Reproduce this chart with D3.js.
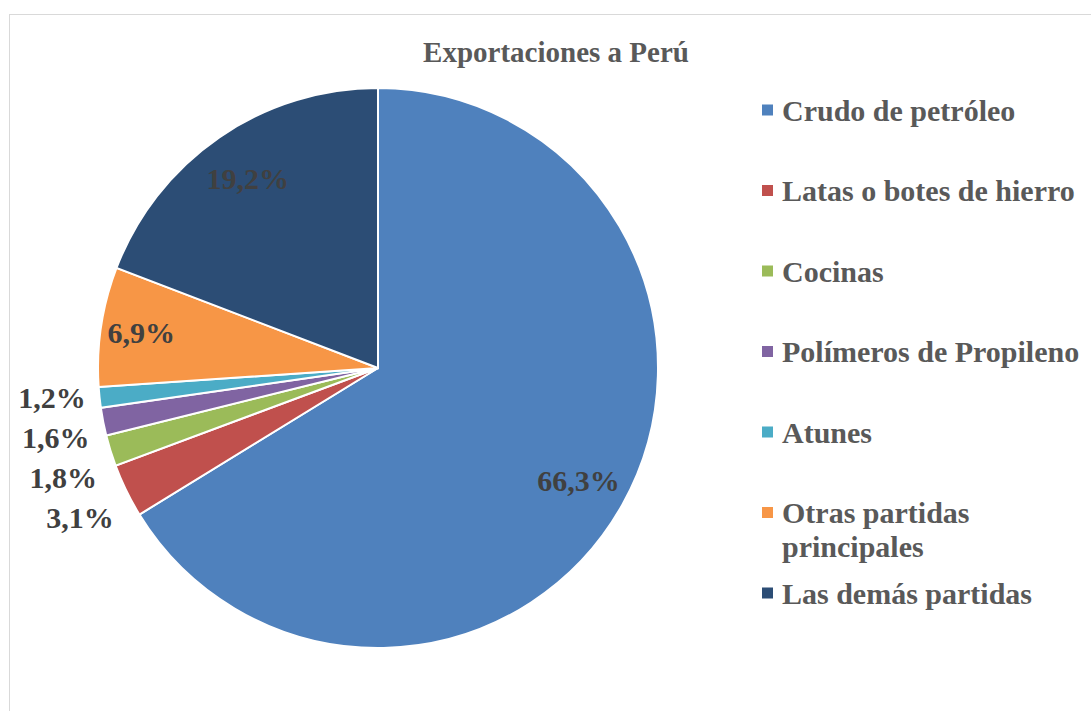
<!DOCTYPE html>
<meta charset="utf-8">
<style>
    body { margin: 0; background: #fff; }
    text { font-family: "Liberation Serif", "Times New Roman", serif; font-weight: bold; }
</style>
<body>
<script src="https://cdn.jsdelivr.net/npm/d3@7"></script>
<script>

    var width = 1091,
        height = 711;

    // Data (percent of exports)
    var categories = ["Crudo de petróleo", "Latas o botes de hierro", "Cocinas",
        "Polímeros de Propileno", "Atunes", "Otras partidas principales", "Las demás partidas"];
    var values = [66.3, 3.1, 1.8, 1.6, 1.2, 6.9, 19.2];
    var labels = ["66,3%", "3,1%", "1,8%", "1,6%", "1,2%", "6,9%", "19,2%"];
    var colors = ["#4F81BD", "#C0504D", "#9BBB59", "#8064A2", "#4BACC6", "#F79646", "#2C4D75"];

    var cx = 378, cy = 368, r = 280;
    var fontSize = 30;

    var svg = d3.select("body").append("svg")
        .attr("width", width)
        .attr("height", height);

    // chart border
    svg.append("rect")
        .attr("x", 9.5).attr("y", 14.5)
        .attr("width", width).attr("height", height)
        .attr("fill", "none")
        .attr("stroke", "#d9d9d9");

    svg.append("text")
        .attr("x", 556).attr("y", 62)
        .attr("text-anchor", "middle")
        .attr("font-size", 29)
        .attr("fill", "#595959")
        .text("Exportaciones a Perú");

    var pie = d3.pie().sort(null).value(function(d) { return d; });
    var arcs = pie(values);

    var arc = d3.arc().innerRadius(0).outerRadius(r);

    var g = svg.append("g").attr("transform", "translate(" + cx + "," + cy + ")");

    g.selectAll("path")
        .data(arcs)
        .enter().append("path")
        .attr("d", arc)
        .attr("fill", function(d, i) { return colors[i]; })
        .attr("stroke", "#fff")
        .attr("stroke-width", 2);

    // labels: big slices inside, small ones outside stacked
    var inside = arcs.filter(function(d) { return d.value >= 5; });
    var outside = arcs.filter(function(d) { return d.value < 5; });

    g.selectAll("text.in")
        .data(inside)
        .enter().append("text")
        .attr("class", "in")
        .attr("transform", function(d) {
            var rr = d.value > 10 ? r * 0.82 : r * 0.855;
            var c = d3.arc().innerRadius(rr).outerRadius(rr).centroid(d);
            return "translate(" + c + ")";
        })
        .attr("text-anchor", "middle")
        .attr("dy", "0.35em")
        .attr("font-size", fontSize)
        .attr("fill", "#404040")
        .text(function(d) { return labels[d.index]; });

    // place outside labels, pushing them apart by a minimum gap
    var outR = r + 14, gap = 40;
    var pos = outside.map(function(d) {
        var a = (d.startAngle + d.endAngle) / 2;
        return { d: d, x: outR * Math.sin(a), y: -r * Math.cos(a) };
    }).sort(function(a, b) { return a.y - b.y; });
    for (var k = 1; k < pos.length; k++) {
        if (pos[k].y < pos[k - 1].y + gap) pos[k].y = pos[k - 1].y + gap;
    }

    g.selectAll("text.out")
        .data(pos)
        .enter().append("text")
        .attr("class", "out")
        .attr("x", function(p) { return p.x; })
        .attr("y", function(p) { return p.y; })
        .attr("text-anchor", "end")
        .attr("dy", "0.35em")
        .attr("font-size", fontSize)
        .attr("fill", "#404040")
        .text(function(p) { return labels[p.d.index]; });

    // legend
    var ly = d3.scalePoint().domain(d3.range(categories.length)).range([110, 593]);
    var legend = svg.append("g").selectAll("g")
        .data(categories)
        .enter().append("g")
        .attr("transform", function(d, i) { return "translate(762," + ly(i) + ")"; });

    legend.append("rect")
        .attr("x", 0).attr("y", -5.5)
        .attr("width", 11).attr("height", 11)
        .attr("fill", function(d, i) { return colors[i]; });

    legend.append("text")
        .attr("x", 20)
        .attr("font-size", fontSize)
        .attr("fill", "#595959")
        .each(function(d) {
            var t = d3.select(this);
            var lines = d === "Otras partidas principales" ? ["Otras partidas", "principales"] : [d];
            lines.forEach(function(s, j) {
                t.append("tspan").attr("x", 20).attr("dy", j === 0 ? "0.35em" : 34).text(s);
            });
        });

</script>
